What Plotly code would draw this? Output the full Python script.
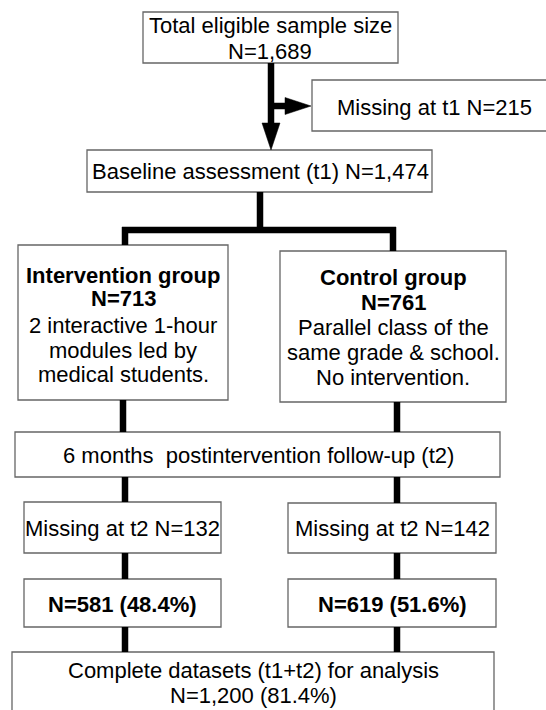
import plotly.graph_objects as go

# ---- content (text of the flowchart) ----
top_lines = ["Total eligible sample size", "N=1,689"]
missing_t1 = "Missing at t1 N=215"
baseline = "Baseline assessment (t1) N=1,474"
group_titles = ["Intervention group", "Control group"]
group_n = ["N=713", "N=761"]
group_desc = [["2 interactive 1-hour", "modules led by", "medical students."],
              ["Parallel class of the", "same grade & school.", "No intervention."]]
followup = "6 months&nbsp; postintervention follow-up (t2)"
missing_t2 = ["Missing at t2 N=132", "Missing at t2 N=142"]
complete_n = ["N=581 (48.4%)", "N=619 (51.6%)"]
final_lines = ["Complete datasets (t1+t2) for analysis", "N=1,200 (81.4%)"]

# ---- layout geometry (pixels, y downward) ----
W, H = 546, 710
FONT = "Liberation Sans, Arial, sans-serif"
FS = 22
BOX_COLOR = "#666666"
LINE_W = 6.5

boxes = [
    (143, 12, 398, 63),    # top
    (312, 80, 556, 131),   # missing t1
    (87, 150, 432, 192),   # baseline
    (18, 245, 228, 400),   # intervention
    (280, 251, 506, 402),  # control
    (15, 432, 500, 477),   # follow-up
    (24, 502, 221, 553),   # missing t2 left
    (288, 503, 496, 553),  # missing t2 right
    (24, 579, 221, 627),   # N=581
    (288, 579, 496, 627),  # N=619
    (12, 652, 494, 720),   # complete
]

connectors = [
    (271, 63, 271, 124),   # top arrow shaft
    (271, 106, 286, 106),  # branch to missing
    (260, 192, 260, 230),
    (122, 230, 396, 230),
    (125, 227, 125, 245),
    (393, 227, 393, 251),
    (123, 400, 123, 432),
    (397, 402, 397, 432),
    (125, 477, 125, 502),
    (397, 477, 397, 503),
    (125, 553, 125, 579),
    (397, 553, 397, 579),
    (125, 627, 125, 652),
    (397, 627, 397, 652),
]

shapes = []
for (x0, y0, x1, y1) in boxes:
    shapes.append(dict(type="rect", xref="x", yref="y", x0=x0, y0=y0, x1=x1, y1=y1,
                       line=dict(color=BOX_COLOR, width=1.3), fillcolor="white", layer="below"))
for (x0, y0, x1, y1) in connectors:
    shapes.append(dict(type="line", xref="x", yref="y", x0=x0, y0=y0, x1=x1, y1=y1,
                       line=dict(color="black", width=LINE_W), layer="above"))
# arrowheads
shapes.append(dict(type="path", xref="x", yref="y",
                   path="M 262 123 L 280 123 L 271 150 Z",
                   fillcolor="black", line=dict(color="black", width=0.5)))
shapes.append(dict(type="path", xref="x", yref="y",
                   path="M 285 97.5 L 285 114.5 L 311 106 Z",
                   fillcolor="black", line=dict(color="black", width=0.5)))

annotations = []
def add_text(x, y, t, bold=False):
    annotations.append(dict(x=x, y=y, xref="x", yref="y", text=("<b>%s</b>" % t) if bold else t,
                            showarrow=False, xanchor="center", yanchor="middle",
                            font=dict(family=FONT, size=FS, color="black")))

add_text(270, 25, top_lines[0])
add_text(270, 51, top_lines[1])
add_text(434, 107, missing_t1)
add_text(260, 171, baseline)

gx = [123, 393]
title_y = [[275, 298, 325, 350, 374], [277, 302, 327, 352, 377]]
for i in range(2):
    ys = title_y[i]
    add_text(gx[i], ys[0], group_titles[i], bold=True)
    add_text(gx[i], ys[1], group_n[i], bold=True)
    for j, line in enumerate(group_desc[i]):
        add_text(gx[i], ys[2 + j], line)

add_text(258, 455, followup)
mx = [122, 392]
for i in range(2):
    add_text(mx[i], 528, missing_t2[i])
    add_text(mx[i], 604, complete_n[i], bold=True)
add_text(253, 670, final_lines[0])
add_text(253, 695, final_lines[1])

fig = go.Figure()
fig.update_layout(
    width=W, height=H,
    margin=dict(l=0, r=0, t=0, b=0),
    paper_bgcolor="white", plot_bgcolor="white",
    xaxis=dict(range=[0, W], visible=False, fixedrange=True),
    yaxis=dict(range=[H, 0], visible=False, fixedrange=True),
    shapes=shapes, annotations=annotations, showlegend=False,
)
fig.write_html("out.html", config={"displayModeBar": False},
               post_script="document.body.style.margin='0px';document.body.style.overflow='hidden';")
